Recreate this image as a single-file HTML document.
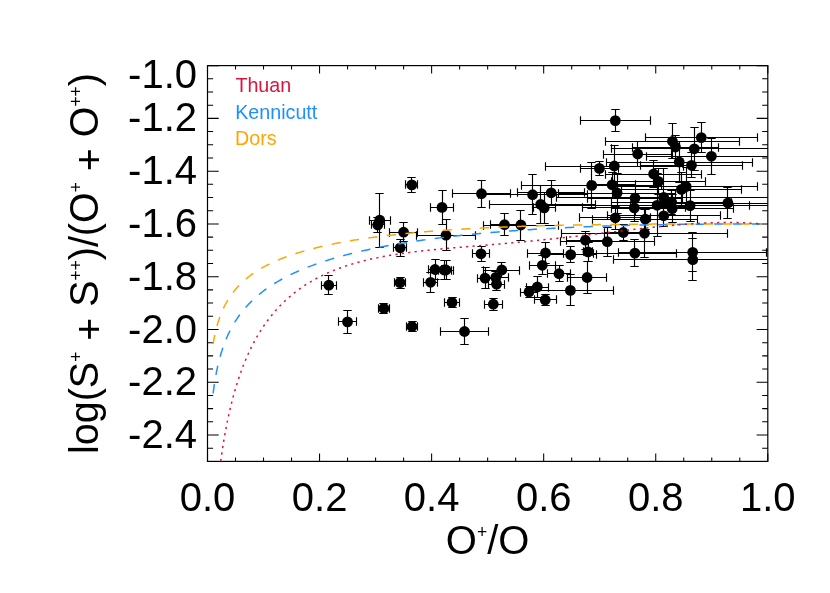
<!DOCTYPE html>
<html><head><meta charset="utf-8"><title>plot</title>
<style>html,body{margin:0;padding:0;background:#fff}body{width:830px;height:593px;overflow:hidden}</style></head>
<body>
<svg width="830" height="593" viewBox="0 0 830 593" style="display:block;will-change:transform">
<rect width="830" height="593" fill="#fff"/>
<defs><clipPath id="c"><rect x="207.5" y="65.6" width="560.3" height="395.79999999999995"/></clipPath></defs>
<path d="M207.50 461.4v-7.9M207.50 65.6v7.9M235.51 461.4v-4.0M235.51 65.6v4.0M263.53 461.4v-4.0M263.53 65.6v4.0M291.55 461.4v-4.0M291.55 65.6v4.0M319.56 461.4v-7.9M319.56 65.6v7.9M347.57 461.4v-4.0M347.57 65.6v4.0M375.59 461.4v-4.0M375.59 65.6v4.0M403.61 461.4v-4.0M403.61 65.6v4.0M431.62 461.4v-7.9M431.62 65.6v7.9M459.63 461.4v-4.0M459.63 65.6v4.0M487.65 461.4v-4.0M487.65 65.6v4.0M515.66 461.4v-4.0M515.66 65.6v4.0M543.68 461.4v-7.9M543.68 65.6v7.9M571.69 461.4v-4.0M571.69 65.6v4.0M599.71 461.4v-4.0M599.71 65.6v4.0M627.72 461.4v-4.0M627.72 65.6v4.0M655.74 461.4v-7.9M655.74 65.6v7.9M683.75 461.4v-4.0M683.75 65.6v4.0M711.77 461.4v-4.0M711.77 65.6v4.0M739.78 461.4v-4.0M739.78 65.6v4.0M767.80 461.4v-7.9M767.80 65.6v7.9M207.5 65.60h11.2M767.8 65.60h-11.2M207.5 78.79h5.6M767.8 78.79h-5.6M207.5 91.99h5.6M767.8 91.99h-5.6M207.5 105.18h5.6M767.8 105.18h-5.6M207.5 118.37h11.2M767.8 118.37h-11.2M207.5 131.57h5.6M767.8 131.57h-5.6M207.5 144.76h5.6M767.8 144.76h-5.6M207.5 157.95h5.6M767.8 157.95h-5.6M207.5 171.15h11.2M767.8 171.15h-11.2M207.5 184.34h5.6M767.8 184.34h-5.6M207.5 197.53h5.6M767.8 197.53h-5.6M207.5 210.73h5.6M767.8 210.73h-5.6M207.5 223.92h11.2M767.8 223.92h-11.2M207.5 237.11h5.6M767.8 237.11h-5.6M207.5 250.31h5.6M767.8 250.31h-5.6M207.5 263.50h5.6M767.8 263.50h-5.6M207.5 276.69h11.2M767.8 276.69h-11.2M207.5 289.89h5.6M767.8 289.89h-5.6M207.5 303.08h5.6M767.8 303.08h-5.6M207.5 316.27h5.6M767.8 316.27h-5.6M207.5 329.47h11.2M767.8 329.47h-11.2M207.5 342.66h5.6M767.8 342.66h-5.6M207.5 355.85h5.6M767.8 355.85h-5.6M207.5 369.05h5.6M767.8 369.05h-5.6M207.5 382.24h11.2M767.8 382.24h-11.2M207.5 395.43h5.6M767.8 395.43h-5.6M207.5 408.63h5.6M767.8 408.63h-5.6M207.5 421.82h5.6M767.8 421.82h-5.6M207.5 435.01h11.2M767.8 435.01h-11.2M207.5 448.21h5.6M767.8 448.21h-5.6M207.5 461.40h5.6M767.8 461.40h-5.6" fill="none" stroke="#000" stroke-width="1.05"/>
<rect x="207.5" y="65.6" width="560.3" height="395.79999999999995" fill="none" stroke="#000" stroke-width="1.2"/>
<g clip-path="url(#c)">
<path d="M369.5 220.5H390.5M369.5 216.3V224.7M390.5 216.3V224.7M379.5 193.5V247.5M375.3 193.5H383.7M375.3 247.5H383.7M371.5 224.5H384.5M371.5 220.3V228.7M384.5 220.3V228.7M377.5 217.5V232.5M373.3 217.5H381.7M373.3 232.5H381.7M389.5 232.5H417.5M389.5 228.3V236.7M417.5 228.3V236.7M403.5 222.5V241.5M399.3 222.5H407.7M399.3 241.5H407.7M393.5 247.5H406.5M393.5 243.3V251.7M406.5 243.3V251.7M400.5 239.5V256.5M396.3 239.5H404.7M396.3 256.5H404.7M405.5 184.5H417.5M405.5 180.3V188.7M417.5 180.3V188.7M411.5 177.5V192.5M407.3 177.5H415.7M407.3 192.5H415.7M321.5 285.5H336.5M321.5 281.3V289.7M336.5 281.3V289.7M328.5 275.5V294.5M324.3 275.5H332.7M324.3 294.5H332.7M338.5 321.5H356.5M338.5 317.3V325.7M356.5 317.3V325.7M347.5 310.5V333.5M343.3 310.5H351.7M343.3 333.5H351.7M394.5 282.5H405.5M394.5 278.3V286.7M405.5 278.3V286.7M400.5 277.5V288.5M396.3 277.5H404.7M396.3 288.5H404.7M378.5 308.5H389.5M378.5 304.3V312.7M389.5 304.3V312.7M383.5 303.5V313.5M379.3 303.5H387.7M379.3 313.5H387.7M406.5 326.5H417.5M406.5 322.3V330.7M417.5 322.3V330.7M412.5 321.5V331.5M408.3 321.5H416.7M408.3 331.5H416.7M430.5 207.5H453.5M430.5 203.3V211.7M453.5 203.3V211.7M442.5 190.5V224.5M438.3 190.5H446.7M438.3 224.5H446.7M416.5 235.5H475.5M416.5 231.3V239.7M475.5 231.3V239.7M446.5 219.5V250.5M442.3 219.5H450.7M442.3 250.5H450.7M452.5 193.5H510.5M452.5 189.3V197.7M510.5 189.3V197.7M481.5 180.5V207.5M477.3 180.5H485.7M477.3 207.5H485.7M490.5 224.5H518.5M490.5 220.3V228.7M518.5 220.3V228.7M504.5 213.5V235.5M500.3 213.5H508.7M500.3 235.5H508.7M483.5 225.5H558.5M483.5 221.3V229.7M558.5 221.3V229.7M520.5 210.5V240.5M516.3 210.5H524.7M516.3 240.5H524.7M472.5 253.5H489.5M472.5 249.3V257.7M489.5 249.3V257.7M481.5 246.5V261.5M477.3 246.5H485.7M477.3 261.5H485.7M428.5 269.5H441.5M428.5 265.3V273.7M441.5 265.3V273.7M435.5 259.5V279.5M431.3 259.5H439.7M431.3 279.5H439.7M436.5 270.5H451.5M436.5 266.3V274.7M451.5 266.3V274.7M444.5 260.5V279.5M440.3 260.5H448.7M440.3 279.5H448.7M438.5 270.5H453.5M438.5 266.3V274.7M453.5 266.3V274.7M446.5 260.5V279.5M442.3 260.5H450.7M442.3 279.5H450.7M423.5 282.5H437.5M423.5 278.3V286.7M437.5 278.3V286.7M430.5 272.5V292.5M426.3 272.5H434.7M426.3 292.5H434.7M477.5 278.5H493.5M477.5 274.3V282.7M493.5 274.3V282.7M485.5 267.5V288.5M481.3 267.5H489.7M481.3 288.5H489.7M483.5 270.5H519.5M483.5 266.3V274.7M519.5 266.3V274.7M501.5 262.5V277.5M497.3 262.5H505.7M497.3 277.5H505.7M483.5 277.5H508.5M483.5 273.3V281.7M508.5 273.3V281.7M495.5 271.5V283.5M491.3 271.5H499.7M491.3 283.5H499.7M488.5 284.5H504.5M488.5 280.3V288.7M504.5 280.3V288.7M496.5 277.5V290.5M492.3 277.5H500.7M492.3 290.5H500.7M444.5 302.5H459.5M444.5 298.3V306.7M459.5 298.3V306.7M452.5 297.5V307.5M448.3 297.5H456.7M448.3 307.5H456.7M484.5 304.5H502.5M484.5 300.3V308.7M502.5 300.3V308.7M493.5 298.5V310.5M489.3 298.5H497.7M489.3 310.5H497.7M440.5 331.5H488.5M440.5 327.3V335.7M488.5 327.3V335.7M464.5 318.5V344.5M460.3 318.5H468.7M460.3 344.5H468.7M478.5 194.5H587.5M478.5 190.3V198.7M587.5 190.3V198.7M532.5 174.5V214.5M528.3 174.5H536.7M528.3 214.5H536.7M517.5 192.5H584.5M517.5 188.3V196.7M584.5 188.3V196.7M551.5 180.5V205.5M547.3 180.5H555.7M547.3 205.5H555.7M489.5 204.5H595.5M489.5 200.3V208.7M595.5 200.3V208.7M540.5 185.5V223.5M536.3 185.5H544.7M536.3 223.5H544.7M533.5 207.5H555.5M533.5 203.3V211.7M555.5 203.3V211.7M544.5 192.5V223.5M540.3 192.5H548.7M540.3 223.5H548.7M521.5 185.5H661.5M521.5 181.3V189.7M661.5 181.3V189.7M591.5 162.5V208.5M587.3 162.5H595.7M587.3 208.5H595.7M589.5 184.5H635.5M589.5 180.3V188.7M635.5 180.3V188.7M612.5 172.5V197.5M608.3 172.5H616.7M608.3 197.5H616.7M558.5 193.5H675.5M558.5 189.3V197.7M675.5 189.3V197.7M617.5 173.5V213.5M613.3 173.5H621.7M613.3 213.5H621.7M545.5 166.5H683.5M545.5 162.3V170.7M683.5 162.3V170.7M614.5 145.5V186.5M610.3 145.5H618.7M610.3 186.5H618.7M580.5 168.5H618.5M580.5 164.3V172.7M618.5 164.3V172.7M599.5 161.5V175.5M595.3 161.5H603.7M595.3 175.5H603.7M580.5 120.5H650.5M580.5 116.3V124.7M650.5 116.3V124.7M615.5 109.5V131.5M611.3 109.5H619.7M611.3 131.5H619.7M603.5 154.5H671.5M603.5 150.3V158.7M671.5 150.3V158.7M637.5 141.5V166.5M633.3 141.5H641.7M633.3 166.5H641.7M605.5 141.5H739.5M605.5 137.3V145.7M739.5 137.3V145.7M672.5 123.5V158.5M668.3 123.5H676.7M668.3 158.5H676.7M632.5 147.5H718.5M632.5 143.3V151.7M718.5 143.3V151.7M675.5 135.5V158.5M671.3 135.5H679.7M671.3 158.5H679.7M645.5 137.5H757.5M645.5 133.3V141.7M757.5 133.3V141.7M701.5 122.5V152.5M697.3 122.5H705.7M697.3 152.5H705.7M611.5 148.5H776.5M611.5 144.3V152.7M776.5 144.3V152.7M694.5 127.5V170.5M690.3 127.5H698.7M690.3 170.5H698.7M646.5 156.5H776.5M646.5 152.3V160.7M776.5 152.3V160.7M711.5 138.5V174.5M707.3 138.5H715.7M707.3 174.5H715.7M606.5 162.5H752.5M606.5 158.3V166.7M752.5 158.3V166.7M679.5 141.5V182.5M675.3 141.5H683.7M675.3 182.5H683.7M640.5 165.5H742.5M640.5 161.3V169.7M742.5 161.3V169.7M691.5 152.5V177.5M687.3 152.5H695.7M687.3 177.5H695.7M605.5 174.5H701.5M605.5 170.3V178.7M701.5 170.3V178.7M653.5 160.5V187.5M649.3 160.5H657.7M649.3 187.5H657.7M611.5 181.5H705.5M611.5 177.3V185.7M705.5 177.3V185.7M658.5 168.5V194.5M654.3 168.5H662.7M654.3 194.5H662.7M614.5 186.5H757.5M614.5 182.3V190.7M757.5 182.3V190.7M686.5 167.5V205.5M682.3 167.5H690.7M682.3 205.5H690.7M621.5 189.5H741.5M621.5 185.3V193.7M741.5 185.3V193.7M681.5 172.5V206.5M677.3 172.5H685.7M677.3 206.5H685.7M587.5 198.5H682.5M587.5 194.3V202.7M682.5 194.3V202.7M635.5 181.5V215.5M631.3 181.5H639.7M631.3 215.5H639.7M582.5 207.5H685.5M582.5 203.3V211.7M685.5 203.3V211.7M634.5 193.5V221.5M630.3 193.5H638.7M630.3 221.5H638.7M556.5 197.5H773.5M556.5 193.3V201.7M773.5 193.3V201.7M663.5 168.5V226.5M659.3 168.5H667.7M659.3 226.5H667.7M542.5 205.5H772.5M542.5 201.3V209.7M772.5 201.3V209.7M657.5 173.5V236.5M653.3 173.5H661.7M653.3 236.5H661.7M611.5 202.5H731.5M611.5 198.3V206.7M731.5 198.3V206.7M671.5 190.5V214.5M667.3 190.5H675.7M667.3 214.5H675.7M661.5 203.5H669.5M661.5 199.3V207.7M669.5 199.3V207.7M665.5 199.5V207.5M661.3 199.5H669.7M661.3 207.5H669.7M611.5 208.5H733.5M611.5 204.3V212.7M733.5 204.3V212.7M672.5 194.5V222.5M668.3 194.5H676.7M668.3 222.5H676.7M630.5 205.5H749.5M630.5 201.3V209.7M749.5 201.3V209.7M690.5 190.5V221.5M686.3 190.5H694.7M686.3 221.5H694.7M667.5 203.5H787.5M667.5 199.3V207.7M787.5 199.3V207.7M727.5 187.5V218.5M723.3 187.5H731.7M723.3 218.5H731.7M607.5 215.5H720.5M607.5 211.3V219.7M720.5 211.3V219.7M663.5 205.5V226.5M659.3 205.5H667.7M659.3 226.5H667.7M579.5 217.5H650.5M579.5 213.3V221.7M650.5 213.3V221.7M615.5 206.5V229.5M611.3 206.5H619.7M611.3 229.5H619.7M592.5 219.5H697.5M592.5 215.3V223.7M697.5 215.3V223.7M645.5 209.5V229.5M641.3 209.5H649.7M641.3 229.5H649.7M604.5 232.5H641.5M604.5 228.3V236.7M641.5 228.3V236.7M623.5 224.5V240.5M619.3 224.5H627.7M619.3 240.5H627.7M561.5 233.5H727.5M561.5 229.3V237.7M727.5 229.3V237.7M644.5 209.5V257.5M640.3 209.5H648.7M640.3 257.5H648.7M566.5 240.5H604.5M566.5 236.3V244.7M604.5 236.3V244.7M585.5 231.5V249.5M581.3 231.5H589.7M581.3 249.5H589.7M560.5 241.5H654.5M560.5 237.3V245.7M654.5 237.3V245.7M607.5 227.5V256.5M603.3 227.5H611.7M603.3 256.5H611.7M618.5 252.5H766.5M618.5 248.3V256.7M766.5 248.3V256.7M692.5 232.5V271.5M688.3 232.5H696.7M688.3 271.5H696.7M613.5 259.5H772.5M613.5 255.3V263.7M772.5 255.3V263.7M692.5 238.5V280.5M688.3 238.5H696.7M688.3 280.5H696.7M593.5 253.5H676.5M593.5 249.3V257.7M676.5 249.3V257.7M634.5 239.5V266.5M630.3 239.5H638.7M630.3 266.5H638.7M527.5 253.5H563.5M527.5 249.3V257.7M563.5 249.3V257.7M545.5 242.5V263.5M541.3 242.5H549.7M541.3 263.5H549.7M545.5 254.5H596.5M545.5 250.3V258.7M596.5 250.3V258.7M570.5 246.5V262.5M566.3 246.5H574.7M566.3 262.5H574.7M583.5 251.5H592.5M583.5 247.3V255.7M592.5 247.3V255.7M588.5 242.5V261.5M584.3 242.5H592.7M584.3 261.5H592.7M529.5 265.5H555.5M529.5 261.3V269.7M555.5 261.3V269.7M542.5 255.5V274.5M538.3 255.5H546.7M538.3 274.5H546.7M547.5 273.5H570.5M547.5 269.3V277.7M570.5 269.3V277.7M559.5 265.5V281.5M555.3 265.5H563.7M555.3 281.5H563.7M567.5 277.5H606.5M567.5 273.3V281.7M606.5 273.3V281.7M587.5 261.5V293.5M583.3 261.5H591.7M583.3 293.5H591.7M526.5 287.5H548.5M526.5 283.3V291.7M548.5 283.3V291.7M537.5 276.5V297.5M533.3 276.5H541.7M533.3 297.5H541.7M520.5 292.5H537.5M520.5 288.3V296.7M537.5 288.3V296.7M529.5 286.5V297.5M525.3 286.5H533.7M525.3 297.5H533.7M527.5 290.5H613.5M527.5 286.3V294.7M613.5 286.3V294.7M570.5 274.5V305.5M566.3 274.5H574.7M566.3 305.5H574.7M534.5 299.5H556.5M534.5 295.3V303.7M556.5 295.3V303.7M545.5 294.5V305.5M541.3 294.5H549.7M541.3 305.5H549.7" fill="none" stroke="#000" stroke-width="1.15"/>
<g fill="#000"><circle cx="379.7" cy="220.1" r="5.4"/><circle cx="377.8" cy="224.9" r="5.4"/><circle cx="403.6" cy="232.2" r="5.4"/><circle cx="400.2" cy="247.8" r="5.4"/><circle cx="411.8" cy="184.9" r="5.4"/><circle cx="328.8" cy="285.2" r="5.4"/><circle cx="347.5" cy="321.9" r="5.4"/><circle cx="400.0" cy="282.6" r="5.4"/><circle cx="383.9" cy="308.4" r="5.4"/><circle cx="412.0" cy="326.5" r="5.4"/><circle cx="442.0" cy="207.4" r="5.4"/><circle cx="446.0" cy="235.2" r="5.4"/><circle cx="481.5" cy="193.7" r="5.4"/><circle cx="504.5" cy="224.7" r="5.4"/><circle cx="520.9" cy="225.0" r="5.4"/><circle cx="481.0" cy="253.8" r="5.4"/><circle cx="435.0" cy="269.5" r="5.4"/><circle cx="444.1" cy="270.0" r="5.4"/><circle cx="446.0" cy="270.0" r="5.4"/><circle cx="430.6" cy="282.3" r="5.4"/><circle cx="485.0" cy="278.1" r="5.4"/><circle cx="501.8" cy="270.0" r="5.4"/><circle cx="495.8" cy="277.4" r="5.4"/><circle cx="496.6" cy="284.1" r="5.4"/><circle cx="452.0" cy="302.4" r="5.4"/><circle cx="493.3" cy="304.2" r="5.4"/><circle cx="464.5" cy="331.5" r="5.4"/><circle cx="532.6" cy="194.7" r="5.4"/><circle cx="551.2" cy="192.8" r="5.4"/><circle cx="540.7" cy="204.4" r="5.4"/><circle cx="544.2" cy="207.9" r="5.4"/><circle cx="591.7" cy="185.4" r="5.4"/><circle cx="612.1" cy="184.8" r="5.4"/><circle cx="617.1" cy="193.0" r="5.4"/><circle cx="614.3" cy="166.0" r="5.4"/><circle cx="599.4" cy="168.4" r="5.4"/><circle cx="615.3" cy="120.6" r="5.4"/><circle cx="637.7" cy="154.0" r="5.4"/><circle cx="672.4" cy="141.3" r="5.4"/><circle cx="675.5" cy="147.0" r="5.4"/><circle cx="701.3" cy="137.6" r="5.4"/><circle cx="694.3" cy="148.8" r="5.4"/><circle cx="711.4" cy="156.3" r="5.4"/><circle cx="679.2" cy="162.0" r="5.4"/><circle cx="691.5" cy="165.3" r="5.4"/><circle cx="653.6" cy="174.0" r="5.4"/><circle cx="658.3" cy="181.4" r="5.4"/><circle cx="686.2" cy="186.5" r="5.4"/><circle cx="681.4" cy="189.4" r="5.4"/><circle cx="635.0" cy="198.1" r="5.4"/><circle cx="634.3" cy="207.9" r="5.4"/><circle cx="663.7" cy="197.4" r="5.4"/><circle cx="657.1" cy="205.3" r="5.4"/><circle cx="671.6" cy="202.0" r="5.4"/><circle cx="665.7" cy="203.5" r="5.4"/><circle cx="672.2" cy="208.6" r="5.4"/><circle cx="690.1" cy="205.6" r="5.4"/><circle cx="727.9" cy="203.0" r="5.4"/><circle cx="663.7" cy="215.8" r="5.4"/><circle cx="615.3" cy="217.8" r="5.4"/><circle cx="645.3" cy="219.1" r="5.4"/><circle cx="623.3" cy="232.5" r="5.4"/><circle cx="644.5" cy="233.3" r="5.4"/><circle cx="585.4" cy="240.2" r="5.4"/><circle cx="607.3" cy="241.7" r="5.4"/><circle cx="692.7" cy="252.3" r="5.4"/><circle cx="692.8" cy="259.7" r="5.4"/><circle cx="634.9" cy="253.1" r="5.4"/><circle cx="545.5" cy="253.0" r="5.4"/><circle cx="570.7" cy="254.6" r="5.4"/><circle cx="588.0" cy="251.9" r="5.4"/><circle cx="542.3" cy="265.3" r="5.4"/><circle cx="559.0" cy="273.7" r="5.4"/><circle cx="587.1" cy="277.5" r="5.4"/><circle cx="537.3" cy="287.0" r="5.4"/><circle cx="529.0" cy="292.0" r="5.4"/><circle cx="570.4" cy="290.4" r="5.4"/><circle cx="545.2" cy="299.9" r="5.4"/></g>
<path d="M213.10 393.36L214.48 383.40L215.85 375.25L217.22 368.35L218.59 362.38L219.97 357.12L221.34 352.42L222.71 348.17L224.08 344.29L225.46 340.73L226.83 337.44L228.20 334.38L229.58 331.53L230.95 328.85L232.32 326.32L233.69 323.94L235.07 321.69L236.44 319.54L237.81 317.51L239.18 315.56L240.56 313.70L241.93 311.93L243.30 310.22L244.68 308.58L246.05 307.01L247.42 305.49L248.79 304.03L250.17 302.61L251.54 301.25L252.91 299.93L254.29 298.65L255.66 297.41L257.03 296.21L258.40 295.05L259.78 293.92L261.15 292.81L262.52 291.74L263.89 290.70L265.27 289.69L266.64 288.70L268.01 287.74L269.39 286.80L270.76 285.88L272.13 284.98L273.50 284.11L274.88 283.25L276.25 282.42L277.62 281.60L278.99 280.80L280.37 280.02L281.74 279.25L283.11 278.50L284.49 277.76L285.86 277.04L287.23 276.34L288.60 275.64L289.98 274.96L291.35 274.30L292.72 273.64L294.09 273.00L295.47 272.37L296.84 271.75L298.21 271.14L299.59 270.54L300.96 269.95L302.33 269.38L303.70 268.81L305.08 268.25L306.45 267.70L307.82 267.16L309.19 266.63L310.57 266.10L311.94 265.59L313.31 265.08L314.69 264.58L316.06 264.09L317.43 263.60L318.80 263.13L320.18 262.66L321.55 262.19L322.92 261.74L324.29 261.29L325.67 260.84L327.04 260.41L328.41 259.97L329.79 259.55L331.16 259.13L332.53 258.72L333.90 258.31L335.28 257.91L336.65 257.51L338.02 257.12L339.39 256.73L340.77 256.35L342.14 255.97L343.51 255.60L344.89 255.23L346.26 254.87L347.63 254.51L349.00 254.16L350.38 253.81L351.75 253.47L353.12 253.13L354.49 252.79L355.87 252.46L357.24 252.13L358.61 251.81L359.99 251.49L361.36 251.17L362.73 250.86L364.10 250.55L365.48 250.25L366.85 249.94L368.22 249.65L369.59 249.35L370.97 249.06L372.34 248.77L373.71 248.49L375.09 248.21L376.46 247.93L377.83 247.65L379.20 247.38L380.58 247.11L381.95 246.85L383.32 246.58L384.69 246.32L386.07 246.06L387.44 245.81L388.81 245.56L390.19 245.31L391.56 245.06L392.93 244.82L394.30 244.58L395.68 244.34L397.05 244.10L398.42 243.87L399.79 243.64L401.17 243.41L402.54 243.18L403.91 242.96L405.29 242.74L406.66 242.52L408.03 242.30L409.40 242.09L410.78 241.88L412.15 241.67L413.52 241.46L414.90 241.25L416.27 241.05L417.64 240.85L419.01 240.65L420.39 240.45L421.76 240.25L423.13 240.06L424.50 239.87L425.88 239.68L427.25 239.49L428.62 239.30L430.00 239.12L431.37 238.94L432.74 238.76L434.11 238.58L435.49 238.40L436.86 238.23L438.23 238.05L439.60 237.88L440.98 237.71L442.35 237.54L443.72 237.38L445.10 237.21L446.47 237.05L447.84 236.89L449.21 236.73L450.59 236.57L451.96 236.41L453.33 236.26L454.70 236.10L456.08 235.95L457.45 235.80L458.82 235.65L460.20 235.50L461.57 235.36L462.94 235.21L464.31 235.07L465.69 234.93L467.06 234.79L468.43 234.65L469.80 234.51L471.18 234.37L472.55 234.24L473.92 234.10L475.30 233.97L476.67 233.84L478.04 233.71L479.41 233.58L480.79 233.45L482.16 233.33L483.53 233.20L484.90 233.08L486.28 232.96L487.65 232.84L489.02 232.72L490.40 232.60L491.77 232.48L493.14 232.36L494.51 232.25L495.89 232.13L497.26 232.02L498.63 231.91L500.00 231.80L501.38 231.69L502.75 231.58L504.12 231.47L505.50 231.37L506.87 231.26L508.24 231.16L509.61 231.05L510.99 230.95L512.36 230.85L513.73 230.75L515.10 230.65L516.48 230.55L517.85 230.46L519.22 230.36L520.60 230.27L521.97 230.17L523.34 230.08L524.71 229.99L526.09 229.90L527.46 229.81L528.83 229.72L530.20 229.63L531.58 229.54L532.95 229.45L534.32 229.37L535.70 229.28L537.07 229.20L538.44 229.12L539.81 229.04L541.19 228.96L542.56 228.88L543.93 228.80L545.30 228.72L546.68 228.64L548.05 228.56L549.42 228.49L550.80 228.41L552.17 228.34L553.54 228.26L554.91 228.19L556.29 228.12L557.66 228.05L559.03 227.98L560.40 227.91L561.78 227.84L563.15 227.77L564.52 227.71L565.90 227.64L567.27 227.57L568.64 227.51L570.01 227.45L571.39 227.38L572.76 227.32L574.13 227.26L575.51 227.20L576.88 227.14L578.25 227.08L579.62 227.02L581.00 226.96L582.37 226.90L583.74 226.85L585.11 226.79L586.49 226.74L587.86 226.68L589.23 226.63L590.61 226.57L591.98 226.52L593.35 226.47L594.72 226.42L596.10 226.37L597.47 226.32L598.84 226.27L600.21 226.22L601.59 226.17L602.96 226.12L604.33 226.08L605.71 226.03L607.08 225.99L608.45 225.94L609.82 225.90L611.20 225.85L612.57 225.81L613.94 225.77L615.31 225.73L616.69 225.69L618.06 225.64L619.43 225.60L620.81 225.57L622.18 225.53L623.55 225.49L624.92 225.45L626.30 225.41L627.67 225.38L629.04 225.34L630.41 225.31L631.79 225.27L633.16 225.24L634.53 225.20L635.91 225.17L637.28 225.14L638.65 225.10L640.02 225.07L641.40 225.04L642.77 225.01L644.14 224.98L645.51 224.95L646.89 224.92L648.26 224.89L649.63 224.87L651.01 224.84L652.38 224.81L653.75 224.78L655.12 224.76L656.50 224.73L657.87 224.71L659.24 224.68L660.61 224.66L661.99 224.64L663.36 224.61L664.73 224.59L666.11 224.57L667.48 224.55L668.85 224.52L670.22 224.50L671.60 224.48L672.97 224.46L674.34 224.44L675.71 224.42L677.09 224.41L678.46 224.39L679.83 224.37L681.21 224.35L682.58 224.34L683.95 224.32L685.32 224.30L686.70 224.29L688.07 224.27L689.44 224.26L690.81 224.24L692.19 224.23L693.56 224.21L694.93 224.20L696.31 224.19L697.68 224.17L699.05 224.16L700.42 224.15L701.80 224.14L703.17 224.13L704.54 224.12L705.91 224.11L707.29 224.10L708.66 224.09L710.03 224.08L711.41 224.07L712.78 224.06L714.15 224.05L715.52 224.04L716.90 224.03L718.27 224.03L719.64 224.02L721.01 224.01L722.39 224.01L723.76 224.00L725.13 223.99L726.51 223.99L727.88 223.98L729.25 223.98L730.62 223.97L732.00 223.97L733.37 223.96L734.74 223.96L736.12 223.95L737.49 223.95L738.86 223.95L740.23 223.94L741.61 223.94L742.98 223.94L744.35 223.94L745.72 223.93L747.10 223.93L748.47 223.93L749.84 223.93L751.22 223.93L752.59 223.93L753.96 223.92L755.33 223.92L756.71 223.92L758.08 223.92L759.45 223.92L760.82 223.92L762.20 223.92" fill="none" stroke="#1e90ff" stroke-width="1.5" stroke-dasharray="9.33 9.33"/>
<path d="M213.10 344.18L214.48 336.60L215.85 330.40L217.22 325.17L218.59 320.64L219.97 316.65L221.34 313.08L222.71 309.87L224.08 306.94L225.46 304.25L226.83 301.77L228.20 299.46L229.58 297.31L230.95 295.29L232.32 293.40L233.69 291.61L235.07 289.92L236.44 288.32L237.81 286.79L239.18 285.34L240.56 283.95L241.93 282.62L243.30 281.35L244.68 280.13L246.05 278.96L247.42 277.83L248.79 276.75L250.17 275.70L251.54 274.69L252.91 273.72L254.29 272.77L255.66 271.86L257.03 270.97L258.40 270.12L259.78 269.28L261.15 268.47L262.52 267.69L263.89 266.93L265.27 266.18L266.64 265.46L268.01 264.76L269.39 264.07L270.76 263.40L272.13 262.75L273.50 262.12L274.88 261.49L276.25 260.89L277.62 260.30L278.99 259.72L280.37 259.15L281.74 258.60L283.11 258.06L284.49 257.53L285.86 257.01L287.23 256.50L288.60 256.01L289.98 255.52L291.35 255.04L292.72 254.57L294.09 254.12L295.47 253.67L296.84 253.23L298.21 252.79L299.59 252.37L300.96 251.95L302.33 251.54L303.70 251.14L305.08 250.75L306.45 250.36L307.82 249.98L309.19 249.60L310.57 249.24L311.94 248.87L313.31 248.52L314.69 248.17L316.06 247.83L317.43 247.49L318.80 247.16L320.18 246.83L321.55 246.51L322.92 246.19L324.29 245.88L325.67 245.57L327.04 245.27L328.41 244.97L329.79 244.68L331.16 244.39L332.53 244.11L333.90 243.83L335.28 243.56L336.65 243.28L338.02 243.02L339.39 242.75L340.77 242.49L342.14 242.24L343.51 241.99L344.89 241.74L346.26 241.49L347.63 241.25L349.00 241.01L350.38 240.78L351.75 240.55L353.12 240.32L354.49 240.10L355.87 239.87L357.24 239.66L358.61 239.44L359.99 239.23L361.36 239.02L362.73 238.81L364.10 238.61L365.48 238.40L366.85 238.21L368.22 238.01L369.59 237.82L370.97 237.63L372.34 237.44L373.71 237.25L375.09 237.07L376.46 236.89L377.83 236.71L379.20 236.53L380.58 236.36L381.95 236.18L383.32 236.02L384.69 235.85L386.07 235.68L387.44 235.52L388.81 235.36L390.19 235.20L391.56 235.04L392.93 234.89L394.30 234.73L395.68 234.58L397.05 234.43L398.42 234.28L399.79 234.14L401.17 234.00L402.54 233.85L403.91 233.71L405.29 233.57L406.66 233.44L408.03 233.30L409.40 233.17L410.78 233.04L412.15 232.91L413.52 232.78L414.90 232.65L416.27 232.53L417.64 232.40L419.01 232.28L420.39 232.16L421.76 232.04L423.13 231.92L424.50 231.81L425.88 231.69L427.25 231.58L428.62 231.47L430.00 231.35L431.37 231.25L432.74 231.14L434.11 231.03L435.49 230.93L436.86 230.82L438.23 230.72L439.60 230.62L440.98 230.52L442.35 230.42L443.72 230.32L445.10 230.22L446.47 230.13L447.84 230.03L449.21 229.94L450.59 229.85L451.96 229.76L453.33 229.67L454.70 229.58L456.08 229.49L457.45 229.41L458.82 229.32L460.20 229.24L461.57 229.15L462.94 229.07L464.31 228.99L465.69 228.91L467.06 228.83L468.43 228.75L469.80 228.67L471.18 228.60L472.55 228.52L473.92 228.45L475.30 228.38L476.67 228.30L478.04 228.23L479.41 228.16L480.79 228.09L482.16 228.02L483.53 227.95L484.90 227.89L486.28 227.82L487.65 227.76L489.02 227.69L490.40 227.63L491.77 227.56L493.14 227.50L494.51 227.44L495.89 227.38L497.26 227.32L498.63 227.26L500.00 227.20L501.38 227.15L502.75 227.09L504.12 227.03L505.50 226.98L506.87 226.92L508.24 226.87L509.61 226.82L510.99 226.77L512.36 226.71L513.73 226.66L515.10 226.61L516.48 226.56L517.85 226.52L519.22 226.47L520.60 226.42L521.97 226.37L523.34 226.33L524.71 226.28L526.09 226.24L527.46 226.19L528.83 226.15L530.20 226.11L531.58 226.06L532.95 226.02L534.32 225.98L535.70 225.94L537.07 225.90L538.44 225.86L539.81 225.82L541.19 225.78L542.56 225.75L543.93 225.71L545.30 225.67L546.68 225.64L548.05 225.60L549.42 225.57L550.80 225.53L552.17 225.50L553.54 225.47L554.91 225.43L556.29 225.40L557.66 225.37L559.03 225.34L560.40 225.31L561.78 225.28L563.15 225.25L564.52 225.22L565.90 225.19L567.27 225.16L568.64 225.13L570.01 225.10L571.39 225.08L572.76 225.05L574.13 225.02L575.51 225.00L576.88 224.97L578.25 224.95L579.62 224.92L581.00 224.90L582.37 224.88L583.74 224.85L585.11 224.83L586.49 224.81L587.86 224.78L589.23 224.76L590.61 224.74L591.98 224.72L593.35 224.70L594.72 224.68L596.10 224.66L597.47 224.64L598.84 224.62L600.21 224.60L601.59 224.59L602.96 224.57L604.33 224.55L605.71 224.53L607.08 224.52L608.45 224.50L609.82 224.48L611.20 224.47L612.57 224.45L613.94 224.44L615.31 224.42L616.69 224.41L618.06 224.39L619.43 224.38L620.81 224.36L622.18 224.35L623.55 224.34L624.92 224.32L626.30 224.31L627.67 224.30L629.04 224.29L630.41 224.28L631.79 224.26L633.16 224.25L634.53 224.24L635.91 224.23L637.28 224.22L638.65 224.21L640.02 224.20L641.40 224.19L642.77 224.18L644.14 224.17L645.51 224.16L646.89 224.15L648.26 224.14L649.63 224.14L651.01 224.13L652.38 224.12L653.75 224.11L655.12 224.11L656.50 224.10L657.87 224.09L659.24 224.08L660.61 224.08L661.99 224.07L663.36 224.06L664.73 224.06L666.11 224.05L667.48 224.05L668.85 224.04L670.22 224.04L671.60 224.03L672.97 224.03L674.34 224.02L675.71 224.02L677.09 224.01L678.46 224.01L679.83 224.00L681.21 224.00L682.58 223.99L683.95 223.99L685.32 223.99L686.70 223.98L688.07 223.98L689.44 223.98L690.81 223.97L692.19 223.97L693.56 223.97L694.93 223.96L696.31 223.96L697.68 223.96L699.05 223.96L700.42 223.95L701.80 223.95L703.17 223.95L704.54 223.95L705.91 223.95L707.29 223.94L708.66 223.94L710.03 223.94L711.41 223.94L712.78 223.94L714.15 223.94L715.52 223.94L716.90 223.93L718.27 223.93L719.64 223.93L721.01 223.93L722.39 223.93L723.76 223.93L725.13 223.93L726.51 223.93L727.88 223.93L729.25 223.93L730.62 223.92L732.00 223.92L733.37 223.92L734.74 223.92L736.12 223.92L737.49 223.92L738.86 223.92L740.23 223.92L741.61 223.92L742.98 223.92L744.35 223.92L745.72 223.92L747.10 223.92L748.47 223.92L749.84 223.92L751.22 223.92L752.59 223.92L753.96 223.92L755.33 223.92L756.71 223.92L758.08 223.92L759.45 223.92L760.82 223.92L762.20 223.92" fill="none" stroke="#ffa500" stroke-width="1.5" stroke-dasharray="9.33 9.33"/>
<path d="M213.10 541.21L214.48 521.46L215.85 504.80L217.22 490.44L218.59 477.82L219.97 466.60L221.34 456.50L222.71 447.33L224.08 438.95L225.46 431.23L226.83 424.09L228.20 417.46L229.58 411.26L230.95 405.46L232.32 400.01L233.69 394.87L235.07 390.02L236.44 385.42L237.81 381.06L239.18 376.91L240.56 372.96L241.93 369.19L243.30 365.59L244.68 362.15L246.05 358.85L247.42 355.69L248.79 352.65L250.17 349.73L251.54 346.93L252.91 344.22L254.29 341.62L255.66 339.11L257.03 336.69L258.40 334.35L259.78 332.08L261.15 329.90L262.52 327.78L263.89 325.74L265.27 323.75L266.64 321.83L268.01 319.97L269.39 318.16L270.76 316.41L272.13 314.71L273.50 313.06L274.88 311.45L276.25 309.89L277.62 308.38L278.99 306.90L280.37 305.47L281.74 304.07L283.11 302.72L284.49 301.40L285.86 300.11L287.23 298.86L288.60 297.64L289.98 296.45L291.35 295.29L292.72 294.16L294.09 293.06L295.47 291.99L296.84 290.94L298.21 289.92L299.59 288.92L300.96 287.95L302.33 287.00L303.70 286.08L305.08 285.17L306.45 284.29L307.82 283.43L309.19 282.59L310.57 281.77L311.94 280.96L313.31 280.18L314.69 279.41L316.06 278.67L317.43 277.93L318.80 277.22L320.18 276.52L321.55 275.84L322.92 275.17L324.29 274.52L325.67 273.88L327.04 273.26L328.41 272.65L329.79 272.06L331.16 271.47L332.53 270.90L333.90 270.35L335.28 269.80L336.65 269.27L338.02 268.75L339.39 268.24L340.77 267.74L342.14 267.25L343.51 266.78L344.89 266.31L346.26 265.85L347.63 265.41L349.00 264.97L350.38 264.54L351.75 264.12L353.12 263.71L354.49 263.31L355.87 262.92L357.24 262.53L358.61 262.16L359.99 261.79L361.36 261.43L362.73 261.07L364.10 260.73L365.48 260.39L366.85 260.06L368.22 259.73L369.59 259.41L370.97 259.10L372.34 258.80L373.71 258.50L375.09 258.21L376.46 257.92L377.83 257.64L379.20 257.36L380.58 257.09L381.95 256.83L383.32 256.57L384.69 256.32L386.07 256.07L387.44 255.82L388.81 255.58L390.19 255.35L391.56 255.12L392.93 254.89L394.30 254.67L395.68 254.45L397.05 254.24L398.42 254.03L399.79 253.83L401.17 253.62L402.54 253.43L403.91 253.23L405.29 253.04L406.66 252.85L408.03 252.67L409.40 252.48L410.78 252.31L412.15 252.13L413.52 251.96L414.90 251.79L416.27 251.62L417.64 251.46L419.01 251.30L420.39 251.14L421.76 250.98L423.13 250.82L424.50 250.67L425.88 250.52L427.25 250.37L428.62 250.23L430.00 250.08L431.37 249.94L432.74 249.80L434.11 249.66L435.49 249.52L436.86 249.39L438.23 249.25L439.60 249.12L440.98 248.99L442.35 248.86L443.72 248.73L445.10 248.60L446.47 248.47L447.84 248.35L449.21 248.22L450.59 248.10L451.96 247.98L453.33 247.85L454.70 247.73L456.08 247.61L457.45 247.49L458.82 247.37L460.20 247.26L461.57 247.14L462.94 247.02L464.31 246.90L465.69 246.79L467.06 246.67L468.43 246.56L469.80 246.44L471.18 246.32L472.55 246.21L473.92 246.09L475.30 245.98L476.67 245.86L478.04 245.75L479.41 245.64L480.79 245.52L482.16 245.41L483.53 245.29L484.90 245.18L486.28 245.06L487.65 244.95L489.02 244.83L490.40 244.71L491.77 244.60L493.14 244.48L494.51 244.36L495.89 244.25L497.26 244.13L498.63 244.01L500.00 243.89L501.38 243.77L502.75 243.65L504.12 243.53L505.50 243.41L506.87 243.29L508.24 243.17L509.61 243.05L510.99 242.93L512.36 242.80L513.73 242.68L515.10 242.55L516.48 242.43L517.85 242.30L519.22 242.18L520.60 242.05L521.97 241.92L523.34 241.79L524.71 241.66L526.09 241.53L527.46 241.40L528.83 241.27L530.20 241.14L531.58 241.00L532.95 240.87L534.32 240.73L535.70 240.60L537.07 240.46L538.44 240.32L539.81 240.18L541.19 240.05L542.56 239.91L543.93 239.77L545.30 239.62L546.68 239.48L548.05 239.34L549.42 239.20L550.80 239.05L552.17 238.91L553.54 238.76L554.91 238.61L556.29 238.47L557.66 238.32L559.03 238.17L560.40 238.02L561.78 237.87L563.15 237.72L564.52 237.57L565.90 237.41L567.27 237.26L568.64 237.11L570.01 236.95L571.39 236.80L572.76 236.64L574.13 236.48L575.51 236.33L576.88 236.17L578.25 236.01L579.62 235.85L581.00 235.70L582.37 235.54L583.74 235.38L585.11 235.22L586.49 235.05L587.86 234.89L589.23 234.73L590.61 234.57L591.98 234.41L593.35 234.24L594.72 234.08L596.10 233.92L597.47 233.76L598.84 233.59L600.21 233.43L601.59 233.26L602.96 233.10L604.33 232.94L605.71 232.77L607.08 232.61L608.45 232.44L609.82 232.28L611.20 232.11L612.57 231.95L613.94 231.78L615.31 231.62L616.69 231.46L618.06 231.29L619.43 231.13L620.81 230.97L622.18 230.80L623.55 230.64L624.92 230.48L626.30 230.32L627.67 230.15L629.04 229.99L630.41 229.83L631.79 229.67L633.16 229.51L634.53 229.36L635.91 229.20L637.28 229.04L638.65 228.88L640.02 228.73L641.40 228.57L642.77 228.42L644.14 228.26L645.51 228.11L646.89 227.96L648.26 227.81L649.63 227.66L651.01 227.51L652.38 227.37L653.75 227.22L655.12 227.08L656.50 226.93L657.87 226.79L659.24 226.65L660.61 226.51L661.99 226.37L663.36 226.24L664.73 226.10L666.11 225.97L667.48 225.84L668.85 225.71L670.22 225.58L671.60 225.45L672.97 225.33L674.34 225.21L675.71 225.09L677.09 224.97L678.46 224.85L679.83 224.74L681.21 224.63L682.58 224.52L683.95 224.41L685.32 224.30L686.70 224.20L688.07 224.10L689.44 224.00L690.81 223.91L692.19 223.81L693.56 223.72L694.93 223.64L696.31 223.55L697.68 223.47L699.05 223.39L700.42 223.31L701.80 223.24L703.17 223.17L704.54 223.10L705.91 223.04L707.29 222.98L708.66 222.92L710.03 222.87L711.41 222.82L712.78 222.77L714.15 222.73L715.52 222.69L716.90 222.66L718.27 222.62L719.64 222.60L721.01 222.57L722.39 222.55L723.76 222.54L725.13 222.53L726.51 222.52L727.88 222.52L729.25 222.52L730.62 222.52L732.00 222.53L733.37 222.55L734.74 222.57L736.12 222.59L737.49 222.62L738.86 222.66L740.23 222.70L741.61 222.74L742.98 222.79L744.35 222.85L745.72 222.91L747.10 222.98L748.47 223.05L749.84 223.13L751.22 223.21L752.59 223.30L753.96 223.40L755.33 223.50L756.71 223.61L758.08 223.72L759.45 223.84L760.82 223.97L762.20 224.10" fill="none" stroke="#dc143c" stroke-width="1.5" stroke-dasharray="2.2 4.267" stroke-dashoffset="-3.03"/>
</g>
<g font-family="Liberation Sans, sans-serif" font-size="40" fill="#000">
<text x="207.5" y="511.3" text-anchor="middle">0.0</text>
<text x="319.6" y="511.3" text-anchor="middle">0.2</text>
<text x="431.6" y="511.3" text-anchor="middle">0.4</text>
<text x="543.7" y="511.3" text-anchor="middle">0.6</text>
<text x="655.7" y="511.3" text-anchor="middle">0.8</text>
<text x="767.8" y="511.3" text-anchor="middle">1.0</text>
<text x="197" y="88.4" text-anchor="end">-1.0</text>
<text x="197" y="131.4" text-anchor="end">-1.2</text>
<text x="197" y="184.1" text-anchor="end">-1.4</text>
<text x="197" y="236.9" text-anchor="end">-1.6</text>
<text x="197" y="289.7" text-anchor="end">-1.8</text>
<text x="197" y="342.5" text-anchor="end">-2.0</text>
<text x="197" y="395.2" text-anchor="end">-2.2</text>
<text x="197" y="448.0" text-anchor="end">-2.4</text>
<text x="487.65" y="554.4" text-anchor="middle">O<tspan font-size="17.5" dy="-16.2">+</tspan><tspan dy="16.2">/O</tspan></text>
<text transform="translate(98.2 454) rotate(-90) scale(0.987 1)" x="0" y="0">log(S<tspan font-size="17.5" dy="-16.2">+</tspan><tspan dy="20.799999999999997"> +</tspan><tspan dy="-4.6"> S</tspan><tspan font-size="17.5" dy="-16.2">++</tspan><tspan dy="16.2">)/(O</tspan><tspan font-size="17.5" dy="-16.2">+</tspan><tspan dy="20.799999999999997"> +</tspan><tspan dy="-4.6"> O</tspan><tspan font-size="17.5" dy="-16.2">++</tspan><tspan dy="16.2">)</tspan></text>
</g>
<g font-family="Liberation Sans, sans-serif" font-size="19.7">
<text x="235.4" y="92.3" fill="#dc143c">Thuan</text>
<text x="235.2" y="118.6" fill="#1e90ff">Kennicutt</text>
<text x="235.0" y="144.8" fill="#ffa500">Dors</text>
</g>
</svg>
</body></html>
